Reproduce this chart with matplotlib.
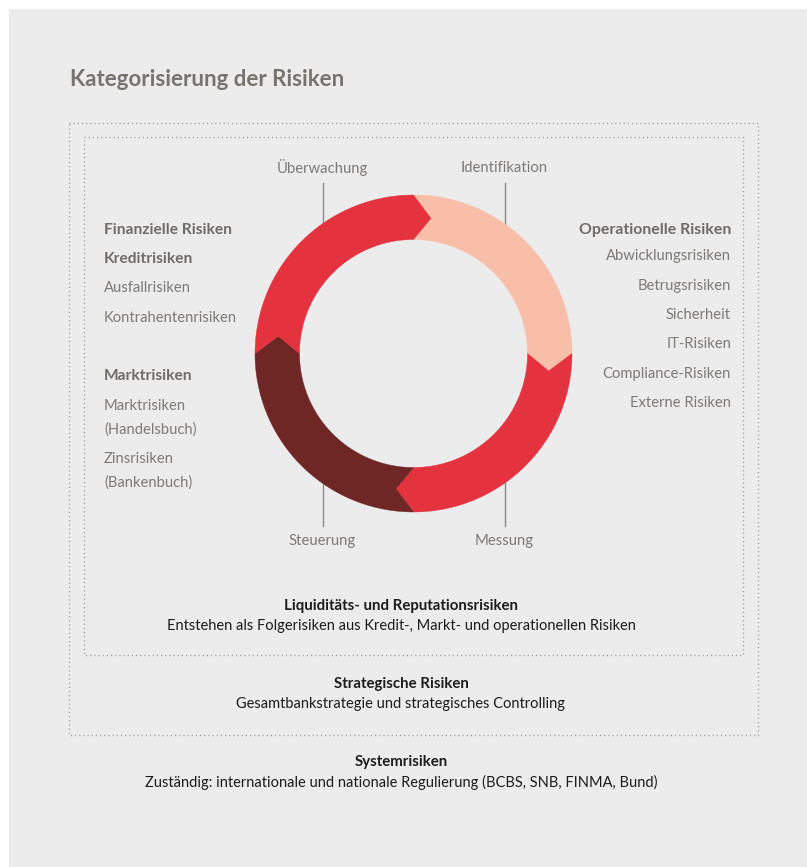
import numpy as np
import matplotlib
matplotlib.use('Agg')
import matplotlib.pyplot as plt
from matplotlib.patches import Polygon, Rectangle

plt.rcParams['font.family'] = ['Lato', 'DejaVu Sans']

# risk cycle (clockwise from 12 o'clock)
phases = ['Identifikation', 'Messung', 'Steuerung', 'Überwachung']
shares = [1, 1, 1, 1]
phase_colors = ['#F8BEA8', '#E5323F', '#6E2725', '#E5323F']

left_items = [('Finanzielle Risiken', True), ('Kreditrisiken', True), ('Ausfallrisiken', False),
              ('Kontrahentenrisiken', False), ('Marktrisiken', True), ('Marktrisiken', False),
              ('(Handelsbuch)', False), ('Zinsrisiken', False), ('(Bankenbuch)', False)]
left_y = [230, 259, 288, 318, 376, 406, 430, 459, 483]

right_items = [('Operationelle Risiken', True), ('Abwicklungsrisiken', False), ('Betrugsrisiken', False),
               ('Sicherheit', False), ('IT-Risiken', False), ('Compliance-Risiken', False),
               ('Externe Risiken', False)]
right_y = [230, 256, 286, 315, 344, 374, 403]

footer = [('Liquiditäts- und Reputationsrisiken', 'Entstehen als Folgerisiken aus Kredit-, Markt- und operationellen Risiken'),
          ('Strategische Risiken', 'Gesamtbankstrategie und strategisches Controlling'),
          ('Systemrisiken', 'Zuständig: internationale und nationale Regulierung (BCBS, SNB, FINMA, Bund)')]
footer_y = [606, 684, 762]

BG = '#ECECEC'
GREY = '#7D7A78'
HEAD = '#6F6B68'
DARK = '#1C1C1C'

W, H = 807, 867
fig = plt.figure(figsize=(W / 100, H / 100), dpi=100)
fig.patch.set_facecolor('white')
ax = fig.add_axes([0, 0, 1, 1])
ax.set_xlim(0, W)
ax.set_ylim(H, 0)
ax.axis('off')

ax.add_patch(Rectangle((9, 9), W - 9, H - 9, facecolor=BG, edgecolor='none', zorder=0))

ax.text(70, 80, 'Kategorisierung der Risiken', fontsize=16, fontweight='bold',
        color='#77736F', va='center', ha='left')

# dotted frames
for (x0, y0, x1, y1) in [(69, 123, 758, 735), (84, 137, 743, 655)]:
    ax.add_patch(Rectangle((x0, y0), x1 - x0, y1 - y0, fill=False, edgecolor='#9A9A9A',
                           linewidth=1, linestyle=(0, (0.8, 2.2)), zorder=1))

# ring
cx, cy = 413.5, 353.5
r_out, r_in = 158.5, 114
r_mid = (r_out + r_in) / 2
delta = np.degrees(17.5 / r_mid)


def pt(r, a):
    return cx + r * np.cos(np.radians(a)), cy - r * np.sin(np.radians(a))


total = sum(shares)
cum = 0
for name, s, col in zip(phases, shares, phase_colors):
    a0 = 90 - 360 * cum / total
    a1 = a0 - 360 * s / total
    cum += s
    outer = [pt(r_out, a) for a in np.linspace(a0, a1, 80)]
    inner = [pt(r_in, a) for a in np.linspace(a1, a0, 80)]
    verts = outer + [pt(r_mid, a1 - delta)] + inner + [pt(r_mid, a0 - delta)]
    ax.add_patch(Polygon(verts, closed=True, facecolor=col, edgecolor=col, linewidth=0.3, zorder=3))

    # label + leader line at the middle of each quadrant
    am = (a0 + a1) / 2
    lx = cx + 91 * np.sign(np.cos(np.radians(am)))
    up = np.sin(np.radians(am)) > 0
    if up:
        ax.plot([lx, lx], [183, cy - 120], color='#8A8A8A', lw=1, zorder=2)
        ax.text(lx, 168, name, fontsize=10.7, color=GREY, ha='center', va='center')
    else:
        ax.plot([lx, lx], [cy + 120, 526], color='#8A8A8A', lw=1, zorder=2)
        ax.text(lx, 541, name, fontsize=10.7, color=GREY, ha='center', va='center')

for (txt, bold), y in zip(left_items, left_y):
    ax.text(104, y, txt, fontsize=11.2 if bold else 10.6, ha='left', va='center',
            fontweight='bold' if bold else 'normal', color=HEAD if bold else GREY)

for (txt, bold), y in zip(right_items, right_y):
    ax.text(731, y, txt, fontsize=11.4 if bold else 10.6, ha='right', va='center',
            fontweight='bold' if bold else 'normal', color=HEAD if bold else GREY)

for (head, sub), y in zip(footer, footer_y):
    ax.text(401, y, head, fontsize=10.8, fontweight='bold', color=DARK, ha='center', va='center')
    ax.text(401, y + 20, sub, fontsize=10.5, color=DARK, ha='center', va='center')

fig.savefig('out.png', dpi=100, facecolor='white')
